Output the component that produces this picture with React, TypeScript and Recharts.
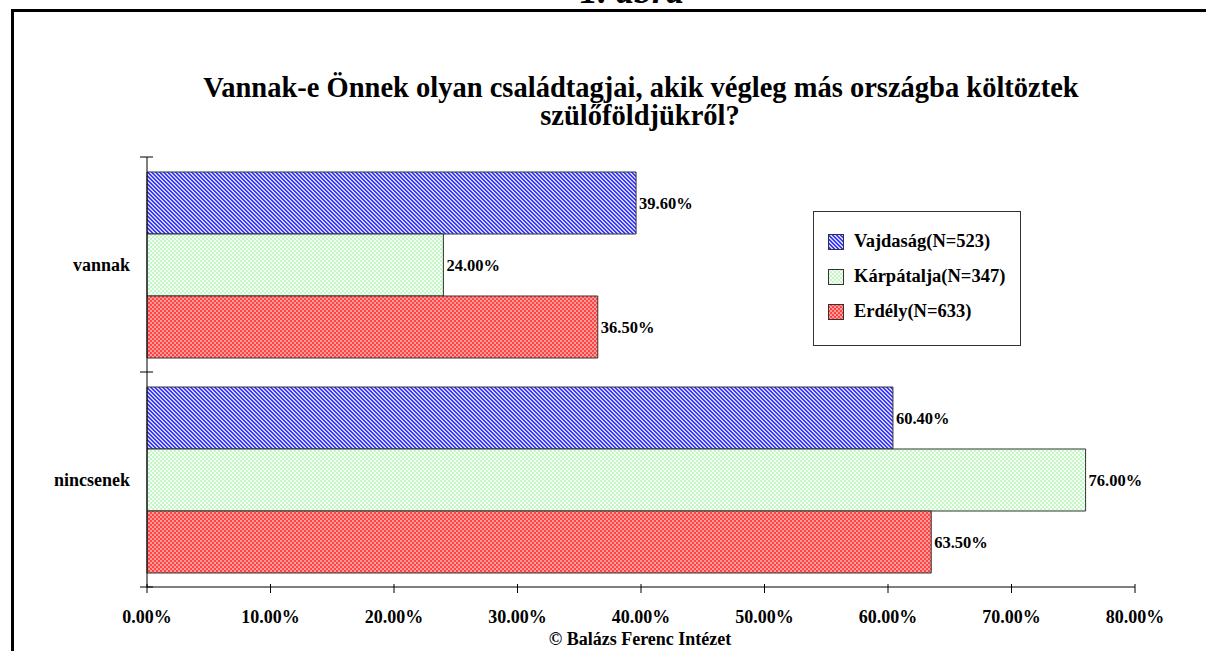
import { Bar, BarChart, LabelList, Legend, XAxis, YAxis } from 'recharts'

const categories = ['vannak', 'nincsenek']
const vajdasag = [39.6, 60.4]
const karpatalja = [24.0, 76.0]
const erdely = [36.5, 63.5]
const xTicks = [0, 10, 20, 30, 40, 50, 60, 70, 80]

const seriesNames = ['Vajdaság(N=523)', 'Kárpátalja(N=347)', 'Erdély(N=633)']
const seriesKeys = ['vajdasag', 'karpatalja', 'erdely']
const seriesFills = ['url(#patBlue)', 'url(#patGreen)', 'url(#patRed)']

const W = 1206
const H = 651
const MARGIN = { top: 157, right: 71, bottom: 24, left: 17 }
const Y_AXIS_W = 130
const X_AXIS_H = 40
const AXIS_X = MARGIN.left + Y_AXIS_W
const AXIS_Y = H - MARGIN.bottom - X_AXIS_H
const BAND = (AXIS_Y - MARGIN.top) / categories.length

const FONT = '"Liberation Serif", "Times New Roman", serif'

const data = categories.map((name, i) => ({
  name,
  vajdasag: vajdasag[i],
  karpatalja: karpatalja[i],
  erdely: erdely[i],
}))

const pct = (v: number) => `${v.toFixed(2)}%`

function YTick({ y, payload, index }: any) {
  const last = index === categories.length - 1
  return (
    <g>
      <text
        x={AXIS_X - 17}
        y={y}
        textAnchor="end"
        dominantBaseline="central"
        fontFamily={FONT}
        fontWeight="bold"
        fontSize={18}
        fill="#000"
      >
        {payload.value}
      </text>
      <line x1={AXIS_X - 7} x2={AXIS_X + 6} y1={y - BAND / 2} y2={y - BAND / 2} stroke="#000" />
      {last && (
        <line x1={AXIS_X - 7} x2={AXIS_X + 6} y1={y + BAND / 2} y2={y + BAND / 2} stroke="#000" />
      )}
    </g>
  )
}

function XTick({ x, payload }: any) {
  return (
    <g>
      <line x1={x} x2={x} y1={AXIS_Y - 3} y2={AXIS_Y + 6} stroke="#000" />
      <text
        x={x}
        y={AXIS_Y + 36}
        textAnchor="middle"
        fontFamily={FONT}
        fontWeight="bold"
        fontSize={18}
        fill="#000"
      >
        {pct(payload.value)}
      </text>
    </g>
  )
}

function LegendBox() {
  return (
    <div
      style={{
        width: 208,
        height: 135,
        border: '1px solid #333',
        background: '#fff',
        boxSizing: 'border-box',
        paddingTop: 12,
      }}
    >
      {seriesNames.map((name, i) => (
        <div key={name} style={{ display: 'flex', alignItems: 'center', height: 35 }}>
          <svg width={16} height={16} style={{ marginLeft: 14, marginRight: 10 }}>
            <rect x={0.5} y={0.5} width={15} height={15} fill={seriesFills[i]} stroke="#333" />
          </svg>
          <span style={{ fontFamily: FONT, fontWeight: 'bold', fontSize: 18.5, color: '#000', whiteSpace: 'nowrap' }}>
            {name}
          </span>
        </div>
      ))}
    </div>
  )
}

export default function App() {
  return (
    <div style={{ position: 'absolute', left: 0, top: 0, width: W, height: H, overflow: 'hidden', background: '#fff' }}>
      <div
        style={{
          position: 'absolute',
          left: 11,
          top: 9,
          width: W + 100,
          height: H + 100,
          borderTop: '3px solid #000',
          borderLeft: '3px solid #000',
        }}
      />
      <BarChart
        width={W}
        height={H}
        data={data}
        layout="vertical"
        margin={MARGIN}
        barCategoryGap={15}
        barGap={0}
        style={{ position: 'absolute', left: 0, top: 0 }}
      >
        <defs>
          <pattern id="patBlue" width={4} height={4} patternUnits="userSpaceOnUse">
            <rect width={4} height={4} fill="#d0d0ff" />
            <rect x={0} y={0} width={1} height={2} fill="#3a3aff" />
            <rect x={1} y={1} width={1} height={2} fill="#3a3aff" />
            <rect x={2} y={2} width={1} height={2} fill="#3a3aff" />
            <rect x={3} y={3} width={1} height={1} fill="#3a3aff" />
            <rect x={3} y={0} width={1} height={1} fill="#3a3aff" />
          </pattern>
          <pattern id="patGreen" width={4} height={4} patternUnits="userSpaceOnUse">
            <rect width={4} height={4} fill="#f2fff2" />
            <rect x={0} y={0} width={2} height={2} fill="#c6f5c8" />
            <rect x={2} y={2} width={2} height={2} fill="#c6f5c8" />
          </pattern>
          <pattern id="patRed" width={4} height={4} patternUnits="userSpaceOnUse">
            <rect width={4} height={4} fill="#ff4444" />
            <rect x={0} y={0} width={2} height={2} fill="#ff9a9a" />
            <rect x={2} y={2} width={2} height={2} fill="#ff9a9a" />
          </pattern>
        </defs>
        <XAxis
          type="number"
          domain={[0, 80]}
          ticks={xTicks}
          height={X_AXIS_H}
          axisLine={{ stroke: '#000' }}
          tickLine={false}
          tick={<XTick />}
          interval={0}
        />
        <YAxis
          type="category"
          dataKey="name"
          width={Y_AXIS_W}
          axisLine={{ stroke: '#000' }}
          tickLine={false}
          tick={<YTick />}
          interval={0}
        />
        <Legend
          layout="horizontal"
          verticalAlign="middle"
          align="center"
          wrapperStyle={{ left: 813, top: 211, width: 208 }}
          content={() => <LegendBox />}
        />
        {seriesKeys.map((key, i) => (
          <Bar
            key={key}
            dataKey={key}
            name={seriesNames[i]}
            fill={seriesFills[i]}
            stroke="#333"
            strokeWidth={1}
            isAnimationActive={false}
          >
            <LabelList
              dataKey={key}
              position="right"
              offset={3}
              formatter={(v: any) => pct(Number(v))}
              style={{ fontFamily: FONT, fontWeight: 'bold', fontSize: 16.5, fill: '#000' }}
            />
          </Bar>
        ))}
      </BarChart>
      <svg width={W} height={H} style={{ position: 'absolute', left: 0, top: 0, pointerEvents: 'none' }}>
        <text x={632} y={3} textAnchor="middle" fontFamily={FONT} fontWeight="bold" fontStyle="italic" fontSize={36}>
          1. ábra
        </text>
        <text x={641} y={97} textAnchor="middle" fontFamily={FONT} fontWeight="bold" fontSize={28.5}>
          Vannak-e Önnek olyan családtagjai, akik végleg más országba költöztek
        </text>
        <text x={640} y={125} textAnchor="middle" fontFamily={FONT} fontWeight="bold" fontSize={28.5}>
          szülőföldjükről?
        </text>
        <text x={640} y={645} textAnchor="middle" fontFamily={FONT} fontWeight="bold" fontSize={18}>
          © Balázs Ferenc Intézet
        </text>
      </svg>
    </div>
  )
}
